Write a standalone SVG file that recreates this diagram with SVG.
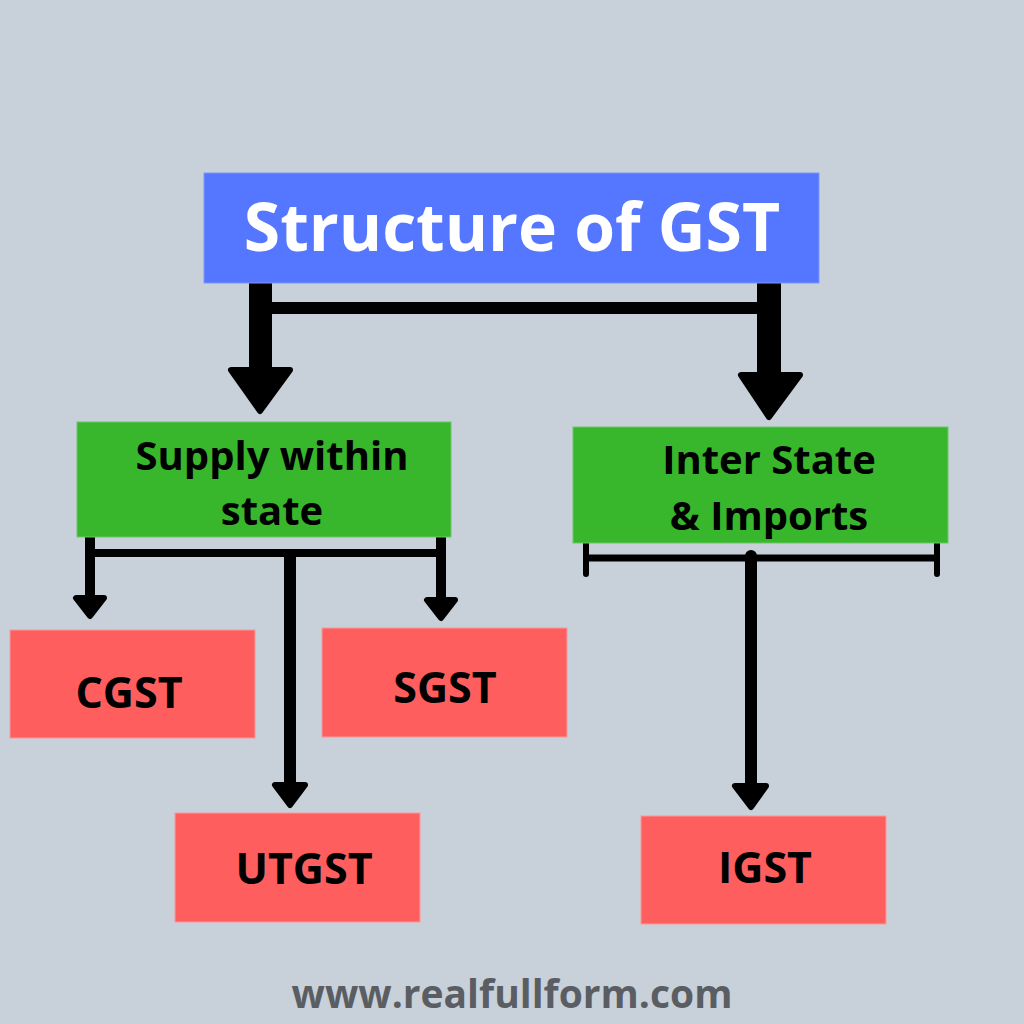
<svg xmlns="http://www.w3.org/2000/svg" width="1024" height="1024" viewBox="0 0 1024 1024">
<style>
.t{font-family:"Open Sans","Liberation Sans",sans-serif;font-weight:700;text-anchor:middle}
.red{fill:#FF5E5E;stroke:#F79A9A;stroke-width:1}
.green{fill:#38B72C;stroke:#6CC66A;stroke-width:1}
.bar{fill:#000}
.head{fill:#000;stroke:#000;stroke-width:6;stroke-linejoin:round}
.ln{stroke:#000;fill:none}
</style>
<rect width="1024" height="1024" fill="#C8D0DA"/>
<g id="connectors">
  <rect class="bar" x="249" y="283" width="23" height="86"/>
  <rect class="bar" x="757" y="283" width="24" height="92"/>
  <rect class="bar" x="272" y="302" width="485" height="12"/>
  <polygon class="head" points="231,370 290,370 260,411"/>
  <polygon class="head" points="741,375 800,375 769,417"/>
  <line class="ln" x1="90" y1="537" x2="90" y2="598" stroke-width="10"/>
  <line class="ln" x1="95" y1="553" x2="436" y2="553" stroke-width="8"/>
  <line class="ln" x1="441" y1="537" x2="441" y2="600" stroke-width="10"/>
  <line class="ln" x1="290" y1="553" x2="290" y2="785" stroke-width="12"/>
  <polygon class="head" points="76,598 104,598 90,616"/>
  <polygon class="head" points="427,600 455,600 441,618"/>
  <polygon class="head" points="275,785 305,785 290,805"/>
  <line class="ln" x1="586" y1="543" x2="586" y2="574" stroke-width="6" stroke-linecap="round"/>
  <line class="ln" x1="937" y1="543" x2="937" y2="574" stroke-width="6" stroke-linecap="round"/>
  <line class="ln" x1="586" y1="558" x2="937" y2="558" stroke-width="7"/>
  <line class="ln" x1="751" y1="556" x2="751" y2="786" stroke-width="12" stroke-linecap="round"/>
  <polygon class="head" points="735,786 766,786 751,807"/>
</g>
<g id="title">
  <rect x="204" y="173" width="615" height="110" fill="#5576FF" stroke="#7F97F5" stroke-width="1"/>
  <text class="t" x="512" y="251" font-size="66" fill="#FFFFFF">Structure of GST</text>
</g>
<g id="supply-within-state">
  <rect class="green" x="77" y="422" width="374" height="115"/>
  <text class="t" x="272" y="470" font-size="40" fill="#000">Supply within</text>
  <text class="t" x="272" y="525" font-size="40" fill="#000">state</text>
</g>
<g id="inter-state">
  <rect class="green" x="573" y="427" width="375" height="116"/>
  <text class="t" x="769" y="474" font-size="40" fill="#000">Inter State</text>
  <text class="t" x="769" y="530" font-size="40" fill="#000">&amp; Imports</text>
</g>
<g id="cgst">
  <rect class="red" x="10" y="630" width="245" height="108"/>
  <text class="t" x="129" y="708" font-size="43" fill="#000">CGST</text>
</g>
<g id="sgst">
  <rect class="red" x="322" y="628" width="245" height="109"/>
  <text class="t" x="445" y="703" font-size="43" fill="#000">SGST</text>
</g>
<g id="utgst">
  <rect class="red" x="175" y="813" width="245" height="109"/>
  <text class="t" x="304" y="884" font-size="43" fill="#000">UTGST</text>
</g>
<g id="igst">
  <rect class="red" x="641" y="816" width="245" height="108"/>
  <text class="t" x="765" y="883" font-size="43" fill="#000">IGST</text>
</g>
<text class="t" x="512" y="1008" font-size="39" fill="#5A5E63">www.realfullform.com</text>
</svg>
